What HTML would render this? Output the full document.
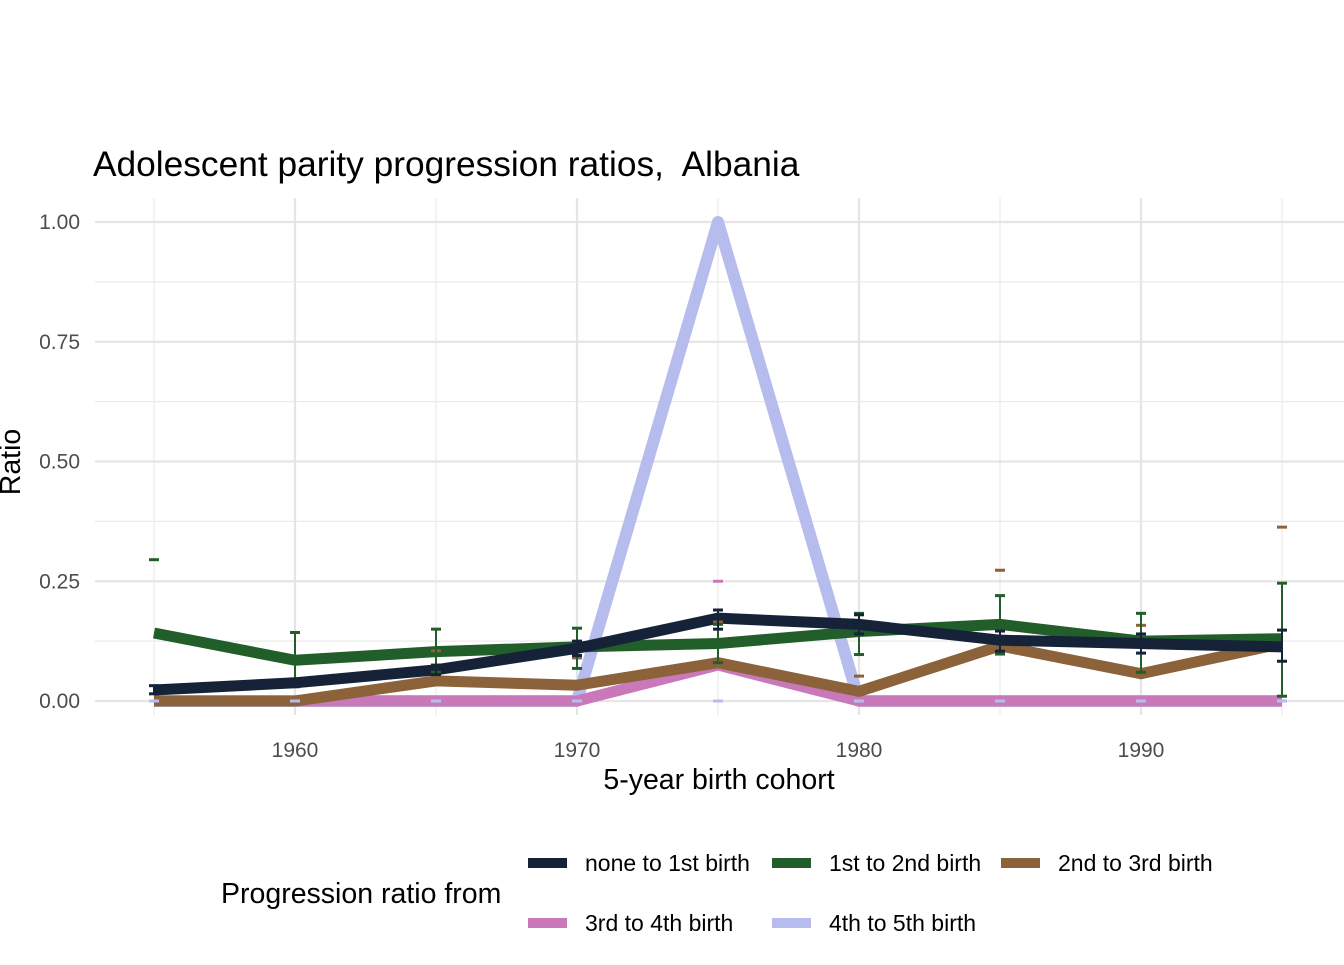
<!DOCTYPE html>
<html><head><meta charset="utf-8"><style>
body{margin:0;background:#fff;font-family:"Liberation Sans",Arial,sans-serif}
</style></head><body>
<svg id="c" width="1344" height="960" xmlns="http://www.w3.org/2000/svg" font-family="Liberation Sans, Arial, sans-serif"></svg>
<script>
const cohorts=[1955,1960,1965,1970,1975,1980,1985,1990,1995];
const noneTo1=[0.023,0.038,0.065,0.11,0.173,0.16,0.127,0.12,0.113];
const first2=[0.142,0.085,0.103,0.113,0.12,0.145,0.16,0.125,0.13];
const second3=[0,0,0.042,0.033,0.08,0.02,0.115,0.057,0.12];
const third4=[0,0,0,0,0.075,0,0,0,0];
const fourth5=[0,0,0,0,1,0,0,0,0];
const noneLo=[0.015,0.03,0.055,0.095,0.15,0.14,0.104,0.1,0.083];
const noneHi=[0.032,0.046,0.075,0.125,0.19,0.18,0.146,0.14,0.148];
const firstLo=[null,0.03,0.06,0.068,0.08,0.097,0.098,0.06,0.01];
const firstHi=[0.295,0.143,0.15,0.152,0.16,0.183,0.22,0.183,0.246];
const secondHi=[null,null,0.105,0.09,0.165,0.052,0.273,0.158,0.363];
const thirdHi=[null,null,null,null,0.25,null,null,null,null];
const xTicks=[1960,1970,1980,1990];
const xMinor=[1955,1965,1975,1985,1995];
const yTicks=[0,0.25,0.5,0.75,1.0];
const yTickLabels=["0.00","0.25","0.50","0.75","1.00"];
const xs=y=>295+(y-1960)*28.2;
const ys=v=>701-v*479;
const svg=document.getElementById('c');
const NS="http://www.w3.org/2000/svg";
function mk(t,a,p){const e=document.createElementNS(NS,t);for(const k in a)e.setAttribute(k,a[k]);(p||svg).appendChild(e);return e;}
xMinor.forEach(c=>{const g=mk('line',{x1:xs(c),x2:xs(c),y1:198,y2:715,stroke:'#ebebeb','stroke-width':1.2});

});
for(let v=0.125;v<1.1;v+=0.25){const g=mk('line',{x1:95,x2:1344,y1:ys(v),y2:ys(v),stroke:'#ebebeb','stroke-width':1.2});

}
xTicks.forEach(c=>{const g=mk('line',{x1:xs(c),x2:xs(c),y1:198,y2:715,stroke:'#e5e5e5','stroke-width':2.2});

});
yTicks.forEach((v,i)=>{const g=mk('line',{x1:95,x2:1344,y1:ys(v),y2:ys(v),stroke:'#e5e5e5','stroke-width':2.2});


const t=mk('text',{x:80,y:ys(v)+7,'text-anchor':'end','font-size':21,fill:'#4d4d4d'});t.textContent=yTickLabels[i];

});
xTicks.forEach(v=>{const t=mk('text',{x:xs(v),y:757,'text-anchor':'middle','font-size':21,fill:'#4d4d4d'});t.textContent=v;

});
const series=[[fourth5,'#b6bdee','4th-to-5th-line'],[third4,'#c979b9','3rd-to-4th-line'],[second3,'#8b6239','2nd-to-3rd-line'],[first2,'#225e2a','1st-to-2nd-line'],[noneTo1,'#152238','none-to-1st-line']];
function caps(vals,col,name){vals.forEach((v,i)=>{if(v==null)return;const l=mk('line',{x1:xs(cohorts[i])-5,x2:xs(cohorts[i])+5,y1:ys(v),y2:ys(v),stroke:col,'stroke-width':3});

});}
function bars(lo,hi,col,name){lo.forEach((v,i)=>{if(v==null||hi[i]==null)return;const l=mk('line',{x1:xs(cohorts[i]),x2:xs(cohorts[i]),y1:ys(v),y2:ys(hi[i]),stroke:col,'stroke-width':2});

});}
series.forEach(([d,col,name])=>{const p=mk('polyline',{points:d.map((v,i)=>xs(cohorts[i])+','+ys(v)).join(' '),fill:'none',stroke:col,'stroke-width':name.startsWith('4th')?12:11,'stroke-linejoin':'round'});

});
caps(cohorts.map(()=>0),'#b6bdee','4th-to-5th-errorcap');
caps(thirdHi,'#c979b9','3rd-to-4th-errorcap');
caps(secondHi,'#8b6239','2nd-to-3rd-errorcap');
bars(firstLo,firstHi,'#225e2a','1st-to-2nd-errorbar');caps(firstLo,'#225e2a','1st-to-2nd-errorcap');caps(firstHi,'#225e2a','1st-to-2nd-errorcap');
bars(noneLo,noneHi,'#152238','none-to-1st-errorbar');caps(noneLo,'#152238','none-to-1st-errorcap');caps(noneHi,'#152238','none-to-1st-errorcap');
function txt(x,y,s,size,name,extra){const t=mk('text',Object.assign({x:x,y:y,'font-size':size,fill:'#000'},extra||{}));t.textContent=s;

return t;}
txt(93,176,'Adolescent parity progression ratios,\u00a0 Albania',35.3,'chart-title');
txt(719,789,'5-year birth cohort',28.5,'x-axis-title',{'text-anchor':'middle'});
txt(20,462,'Ratio',28.5,'y-axis-title',{'text-anchor':'middle',transform:'rotate(-90 20 462)'});
txt(221,903,'Progression ratio from',28.5,'legend-title');
const legend=[['none to 1st birth','#152238',528,863],['1st to 2nd birth','#225e2a',772,863],['2nd to 3rd birth','#8b6239',1001,863],['3rd to 4th birth','#c979b9',528,923],['4th to 5th birth','#b6bdee',772,923]];
legend.forEach(([lab,col,x,y])=>{const g=mk('g',{});


mk('line',{x1:x,x2:x+39,y1:y,y2:y,stroke:col,'stroke-width':10},g);
const t=mk('text',{x:x+57,y:y+8,'font-size':23,fill:'#000'},g);t.textContent=lab;});
</script>
</body></html>
